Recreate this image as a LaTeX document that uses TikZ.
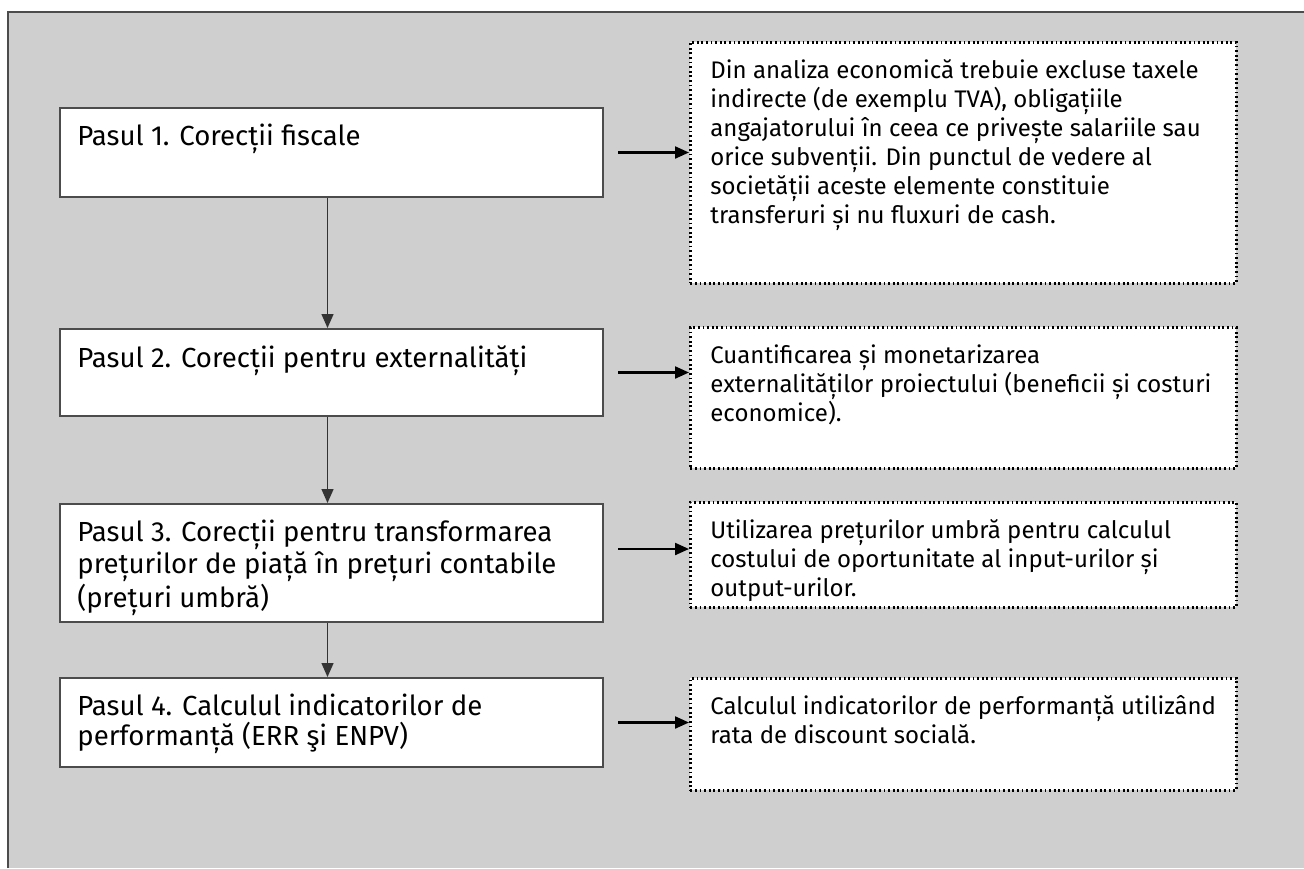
\documentclass[tikz,border=0pt]{standalone}
\usepackage{fontspec}
\setmainfont{Fira Sans}
\usetikzlibrary{arrows.meta}

\begin{document}
\begin{tikzpicture}[
    x=0.5pt, y=-0.5pt,
    >={Triangle[length=7pt,width=6pt]},
    stepbox/.style={
        draw=black!70,
        line width=1pt,
        fill=white,
        anchor=north west,
        minimum width=271.5pt,
        inner sep=0pt
    },
    notebox/.style={
        draw=black,
        line width=1.3pt,
        dash pattern=on 0.9pt off 1.4pt,
        fill=white,
        anchor=north west,
        minimum width=273pt,
        inner sep=0pt
    },
    steptext/.style={
        anchor=north west,
        align=left,
        font=\fontsize{13.8}{15}\selectfont,
        inner xsep=9pt,
        inner ysep=8.5pt
    },
    notetext/.style={
        anchor=north west,
        align=left,
        font=\fontsize{12}{14.5}\selectfont,
        inner xsep=10.5pt,
        inner ysep=9pt
    },
    arr/.style={
        ->,
        line width=1.1pt
    },
    down/.style={
        ->,
        draw=black!80,
        line width=0.7pt
    }
]
    \useasboundingbox (0,0) rectangle (1304,868);

    % fundal si chenar
    \fill[white] (0,0) rectangle (1304,868);
    \fill[black!19] (8,12) rectangle (1304,868);
    \draw[black!70, line width=1pt] (8,868) -- (8,12) -- (1304,12);

    % pasii
    \node[stepbox, minimum height=44.5pt] (pas1) at (59,107) {};
    \node[steptext] (pas1text) at (pas1.north west)
        {Pasul 1. Corecții fiscale};

    \node[stepbox, minimum height=43.5pt] (pas2) at (59,328) {};
    \node[steptext] (pas2text) at (pas2.north west)
        {Pasul 2. Corecții pentru externalități};

    \node[stepbox, minimum height=59pt] (pas3) at (59,503) {};
    \node[steptext] (pas3text) at (pas3.north west)
        {Pasul 3. Corecții pentru transformarea\\
        prețurilor de piață în prețuri contabile\\
        (prețuri umbră)};

    \node[stepbox, minimum height=44.5pt] (pas4) at (59,677) {};
    \node[steptext] (pas4text) at (pas4.north west)
        {Pasul 4. Calculul indicatorilor de\\
        performanță (ERR şi ENPV)};

    % explicatii
    \node[notebox, minimum height=120.5pt] (nota1) at (689,41) {};
    \node[notetext] (nota1text) at (nota1.north west)
        {Din analiza economică trebuie excluse taxele\\
        indirecte (de exemplu TVA), obligațiile\\
        angajatorului în ceea ce privește salariile sau\\
        orice subvenții. Din punctul de vedere al\\
        societății aceste elemente constituie\\
        transferuri și nu fluxuri de cash.};

    \node[notebox, minimum height=70.5pt] (nota2) at (689,326) {};
    \node[notetext] (nota2text) at (nota2.north west)
        {Cuantificarea și monetarizarea\\
        externalităților proiectului (beneficii și costuri\\
        economice).};

    \node[notebox, minimum height=52.5pt] (nota3) at (689,501) {};
    \node[notetext] (nota3text) at (nota3.north west)
        {Utilizarea prețurilor umbră pentru calculul\\
        costului de oportunitate al input-urilor și\\
        output-urilor.};

    \node[notebox, minimum height=56pt] (nota4) at (689,677) {};
    \node[notetext] (nota4text) at (nota4.north west)
        {Calculul indicatorilor de performanță utilizând\\
        rata de discount socială.};

    % punct de plecare, putin deasupra mijlocului
    \coordinate (pas3out) at ([yshift=7pt]pas3.east);

    % sageti intre pasi
    \draw[down] ([xshift=-2pt]pas1.south) -- ([xshift=-2pt]pas2.north);
    \draw[down] ([xshift=-2pt]pas2.south) -- ([xshift=-2pt]pas3.north);
    \draw[down] ([xshift=-2pt]pas3.south) -- ([xshift=-2pt]pas4.north);

    % sageti spre explicatii
    \draw[arr] ([xshift=7pt]pas1.east) -- (nota1.west |- pas1.east);
    \draw[arr] ([xshift=7pt]pas2.east) -- (nota2.west |- pas2.east);
    \draw[arr] ([xshift=7pt]pas3out) -- (nota3.west |- pas3out);
    \draw[arr] ([xshift=7pt]pas4.east) -- (nota4.west |- pas4.east);
\end{tikzpicture}
\end{document}
